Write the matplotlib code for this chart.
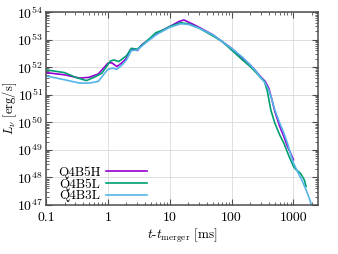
import numpy as np
import matplotlib
matplotlib.use("Agg")
import matplotlib.pyplot as plt
from matplotlib.ticker import LogLocator, NullFormatter

plt.rcParams["font.family"] = "cmr10"
plt.rcParams["mathtext.fontset"] = "cm"
plt.rcParams["axes.unicode_minus"] = False
plt.rcParams["axes.formatter.use_mathtext"] = True

# t - t_merger [ms] and log10 L_nu [erg/s]
t_q4b5h = [0.1, 0.2, 0.35, 0.5, 0.7, 0.85, 1.0, 1.15, 1.4, 1.7, 2.0, 2.3, 2.7, 3.0, 3.5,
           5, 7, 10, 14, 17, 22, 30, 50, 70, 100, 150, 200, 250, 300, 350, 400, 450,
           500, 600, 700, 800, 900, 1000]
logL_q4b5h = [51.80, 51.72, 51.60, 51.63, 51.75, 51.96, 52.14, 52.16, 52.02, 52.16, 52.32,
              52.62, 52.65, 52.60, 52.80, 53.05, 53.29, 53.47, 53.65, 53.71, 53.59, 53.44,
              53.17, 52.93, 52.68, 52.32, 52.08, 51.84, 51.63, 51.48, 51.23, 50.81, 50.39,
              49.85, 49.48, 49.12, 48.88, 48.64]

t_q4b5l = [0.1, 0.2, 0.3, 0.45, 0.6, 0.8, 0.95, 1.1, 1.25, 1.5, 2.0, 2.4, 3, 4, 6, 8, 10,
           15, 20, 30, 50, 70, 100, 150, 200, 250, 300, 340, 380, 430, 500, 600, 700, 850,
           1000, 1100, 1300, 1500, 1600]
logL_q4b5l = [51.90, 51.80, 51.63, 51.51, 51.63, 51.78, 52.02, 52.22, 52.26, 52.20, 52.41,
              52.68, 52.65, 52.89, 53.25, 53.35, 53.47, 53.61, 53.57, 53.41, 53.13, 52.93,
              52.62, 52.26, 52.02, 51.80, 51.60, 51.48, 51.11, 50.45, 49.97, 49.54, 49.24,
              48.76, 48.40, 48.28, 48.15, 47.91, 47.67]

t_q4b3l = [0.1, 0.2, 0.35, 0.5, 0.7, 0.85, 1.0, 1.2, 1.4, 1.7, 2.0, 2.4, 3, 4, 6, 10, 15,
           20, 30, 50, 100, 150, 200, 250, 300, 350, 400, 450, 500, 600, 700, 800, 1000,
           1200, 1400, 1600, 1800, 1950, 2050]
logL_q4b3l = [51.68, 51.54, 51.42, 51.42, 51.48, 51.72, 51.92, 51.96, 51.92, 52.08, 52.26,
              52.60, 52.62, 52.86, 53.17, 53.44, 53.57, 53.55, 53.41, 53.17, 52.68, 52.36,
              52.08, 51.84, 51.60, 51.42, 51.17, 50.81, 50.45, 49.97, 49.61, 49.24, 48.52,
              48.15, 47.85, 47.55, 47.25, 47.0, 46.8]

labels = ["Q4B5H", "Q4B5L", "Q4B3L"]
colors = ["#9400D3", "#009E73", "#56B4E9"]

fig = plt.figure(figsize=(3.38, 2.54), dpi=100)
ax = fig.add_axes([0.136, 0.193, 0.805, 0.760])

series = [(t_q4b5h, logL_q4b5h), (t_q4b5l, logL_q4b5l), (t_q4b3l, logL_q4b3l)]
for (t, lg), lab, c in zip(series, labels, colors):
    ax.plot(t, 10.0 ** np.array(lg), color=c, lw=1.2, label=lab)

ax.set_xscale("log")
ax.set_yscale("log")
ax.set_xlim(0.1, 2500)
ax.set_ylim(1e47, 1e54)
ax.set_xticks([0.1, 1, 10, 100, 1000])
ax.set_xticklabels(["0.1", "1", "10", "100", "1000"])
ax.yaxis.set_major_locator(LogLocator(base=10, numticks=20))
ax.yaxis.set_minor_locator(LogLocator(base=10, subs=np.arange(2, 10), numticks=20))
ax.yaxis.set_minor_formatter(NullFormatter())

ax.grid(True, which="major", color="0.85", lw=0.6)
ax.tick_params(which="both", direction="in", top=True, right=True, labelsize=10,
               color="0.3")
ax.tick_params(axis="y", pad=2)
ax.tick_params(axis="x", pad=5)
ax.tick_params(which="major", length=4.5)
ax.tick_params(which="minor", length=2.5)
for s in ax.spines.values():
    s.set_color("0.3")
    s.set_linewidth(1.1)

ax.set_xlabel(r"$t$-$t_{\rm merger}$ [ms]", fontsize=9.5, labelpad=2)
ax.set_ylabel(r"$L_\nu$ [erg/s]", fontsize=9)
ax.yaxis.set_label_coords(-0.10, 0.5)

ax.legend(loc="lower left", bbox_to_anchor=(0.02, -0.02), markerfirst=False, frameon=False,
          fontsize=9.5, handlelength=3.1, labelspacing=-0.05, borderpad=0.0,
          handletextpad=0.4)

fig.savefig("out.png", dpi=100)
